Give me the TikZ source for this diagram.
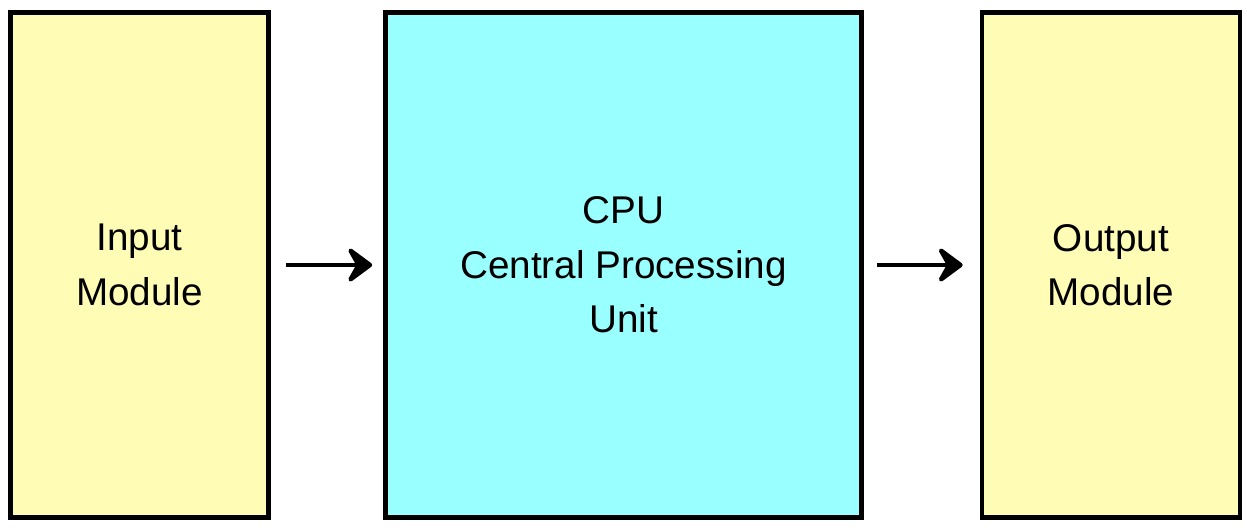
\documentclass[tikz,border=0pt]{standalone}
\usepackage{fontspec}
\setmainfont{Liberation Sans}
\usetikzlibrary{arrows.meta}
\definecolor{modyellow}{RGB}{255,253,181}
\definecolor{cpucyan}{RGB}{153,255,255}

\begin{document}
\begin{tikzpicture}[x=0.02cm, y=-0.02cm, module/.style={draw, line width=2.8pt, fill=modyellow, minimum width=5.16cm, minimum height=10.1cm, align=center, font=\fontsize{22}{31}\selectfont}, cpu/.style={module, fill=cpucyan, minimum width=9.52cm}, n/.style={-{Stealth[length=17pt, width=25pt, inset=7pt, round]}, line width=2.8pt}]
            \useasboundingbox (0,0) rectangle (1247,529);
            % nodes
            \node[module] (in) at (139.5,265) {Input\\Module};
            \node[cpu] (cpu) at (623.5,265) {CPU\\Central Processing\\Unit};
            \node[module] (out) at (1111,265) {Output\\Module};
            % edges
            \draw [n, shorten <=8.5pt, shorten >=6.2pt] (in) -- (cpu);
            \draw [n, shorten <=7.4pt, shorten >=9.6pt] (cpu) -- (out);
        \end{tikzpicture}
\end{document}
